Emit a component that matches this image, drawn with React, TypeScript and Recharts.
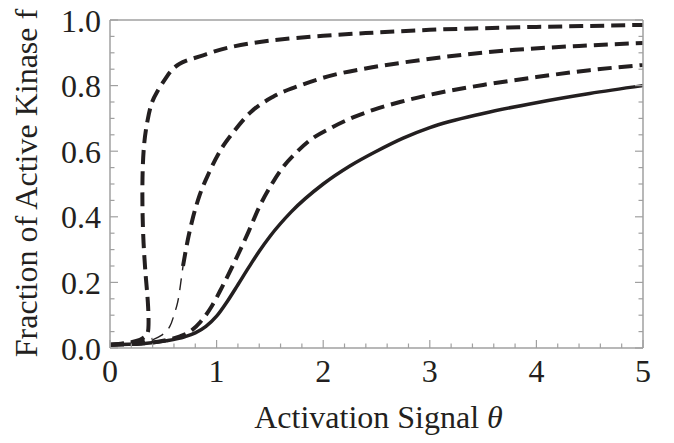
import React from "react";
import { LineChart, Line, XAxis, YAxis, Label } from "recharts";

const INK = "#231f20";
const FRAME = "#a0a0a0";
const SERIF = "'Liberation Serif', 'Times New Roman', serif";

// θ / f samples for each steady-state curve
const thetaA = [0, 0.1, 0.2, 0.28, 0.33, 0.36, 0.355, 0.335, 0.315, 0.305, 0.305, 0.32, 0.353, 0.39, 0.44, 0.53, 0.65, 0.85, 1.1, 1.5, 2.0, 2.5, 3.0, 3.5, 4.0, 4.5, 5.0];
const fA = [0.01, 0.013, 0.018, 0.025, 0.035, 0.06, 0.14, 0.22, 0.32, 0.42, 0.52, 0.62, 0.695, 0.745, 0.78, 0.826, 0.866, 0.89, 0.915, 0.937, 0.952, 0.962, 0.97, 0.975, 0.979, 0.982, 0.985];

const thetaBLow = [0, 0.2, 0.4];
const fBLow = [0.01, 0.015, 0.025];
const thetaBMid = [0.4, 0.49, 0.56, 0.6, 0.635, 0.66, 0.685];
const fBMid = [0.025, 0.04, 0.065, 0.1, 0.14, 0.19, 0.25];
const thetaBHigh = [0.685, 0.73, 0.78, 0.84, 0.93, 1.05, 1.15, 1.31, 1.53, 1.78, 2.09, 2.41, 2.72, 3.15, 3.8, 4.4, 5.0];
const fBHigh = [0.25, 0.33, 0.4, 0.465, 0.535, 0.61, 0.655, 0.716, 0.766, 0.8, 0.832, 0.853, 0.869, 0.888, 0.909, 0.921, 0.93];

const thetaC = [0, 0.3, 0.5, 0.65, 0.75, 0.85, 0.95, 1.05, 1.15, 1.3, 1.4, 1.5, 1.62, 1.75, 1.87, 2.09, 2.28, 2.47, 2.72, 3.0, 3.5, 4.0, 4.5, 5.0];
const fC = [0.01, 0.014, 0.022, 0.035, 0.05, 0.08, 0.125, 0.185, 0.25, 0.355, 0.43, 0.49, 0.55, 0.597, 0.632, 0.674, 0.703, 0.726, 0.75, 0.772, 0.802, 0.826, 0.847, 0.863];

const thetaD = [0, 0.3, 0.53, 0.7, 0.8, 0.9, 1.0, 1.1, 1.2, 1.3, 1.4, 1.5, 1.7, 2.0, 2.25, 2.5, 2.75, 3.0, 3.5, 4.0, 4.5, 5.0];
const fD = [0.01, 0.013, 0.022, 0.034, 0.046, 0.066, 0.097, 0.142, 0.193, 0.245, 0.295, 0.34, 0.415, 0.5, 0.555, 0.6, 0.64, 0.672, 0.715, 0.748, 0.776, 0.8];

const xMajor = [0, 1, 2, 3, 4, 5];
const yMajor = [0, 0.2, 0.4, 0.6, 0.8, 1.0];
const xMinorStep = 0.2;
const yMinorStep = 0.05;

const zip = (t: number[], f: number[]) => t.map((theta, i) => ({ theta, f: f[i] }));

const subdivide = (major: number[], step: number) => {
  const out: number[] = [];
  const n = Math.round((major[major.length - 1] - major[0]) / step);
  for (let i = 0; i <= n; i++) out.push(+(major[0] + i * step).toFixed(4));
  return out;
};

const xTicks = subdivide(xMajor, xMinorStep);
const yTicks = subdivide(yMajor, yMinorStep);

const isMajor = (v: number, major: number[]) => major.some((m) => Math.abs(m - v) < 1e-6);

const X_GAP = 34;
const Y_GAP = 9;

const BottomTick = ({ x, y, payload }: any) => {
  const major = isMajor(payload.value, xMajor);
  const axisY = y - X_GAP;
  return (
    <g>
      <line x1={x} x2={x} y1={axisY} y2={axisY - (major ? 8 : 4.5)} stroke={FRAME} strokeWidth={1.2} />
      {major && (
        <text x={x} y={y} textAnchor="middle" fontSize={32} fontFamily={SERIF} fill={INK}>
          {Math.round(payload.value)}
        </text>
      )}
    </g>
  );
};

const TopTick = ({ x, y, payload }: any) => {
  const major = isMajor(payload.value, xMajor);
  return <line x1={x} x2={x} y1={y} y2={y + (major ? 8 : 4.5)} stroke={FRAME} strokeWidth={1.2} />;
};

const LeftTick = ({ x, y, payload }: any) => {
  const major = isMajor(payload.value, yMajor);
  const axisX = x + Y_GAP;
  return (
    <g>
      <line x1={axisX} x2={axisX + (major ? 8 : 4.5)} y1={y} y2={y} stroke={FRAME} strokeWidth={1.2} />
      {major && (
        <text x={x} y={y} dy="0.36em" textAnchor="end" fontSize={32} fontFamily={SERIF} fill={INK}>
          {payload.value.toFixed(1)}
        </text>
      )}
    </g>
  );
};

const RightTick = ({ x, y, payload }: any) => {
  const major = isMajor(payload.value, yMajor);
  return <line x1={x} x2={x - (major ? 8 : 4.5)} y1={y} y2={y} stroke={FRAME} strokeWidth={1.2} />;
};

const XTitle = ({ viewBox }: any) => (
  <text x={viewBox.x + viewBox.width / 2 + 2} y={viewBox.y + 80} textAnchor="middle" fontSize={32} fontFamily={SERIF} fill={INK}>
    Activation Signal <tspan fontStyle="italic">θ</tspan>
  </text>
);

const YTitle = ({ viewBox }: any) => {
  const cx = viewBox.x - 13;
  const cy = viewBox.y + viewBox.height / 2 - 1;
  return (
    <text x={cx} y={cy} transform={`rotate(-90, ${cx}, ${cy})`} textAnchor="middle" fontSize={32} fontFamily={SERIF} fill={INK}>
      Fraction of Active Kinase f
    </text>
  );
};

const dashed = { stroke: INK, strokeWidth: 4, strokeDasharray: "14 7", dot: false, isAnimationActive: false };

export default function App() {
  return (
    <div style={{ position: "absolute", left: 0, top: 0, background: "#fff" }}>
      <LineChart width={674} height={443} margin={{ top: 10, right: 21, bottom: 35, left: 50 }}>
        <XAxis
          dataKey="theta"
          type="number"
          domain={[0, 5]}
          ticks={xTicks}
          interval={0}
          allowDataOverflow
          height={60}
          stroke={FRAME}
          strokeWidth={1.5}
          tickLine={false}
          tickSize={0}
          tickMargin={X_GAP}
          tick={<BottomTick />}
        >
          <Label content={<XTitle />} />
        </XAxis>
        <XAxis
          xAxisId="top"
          orientation="top"
          type="number"
          domain={[0, 5]}
          ticks={xTicks}
          interval={0}
          allowDataOverflow
          height={10}
          stroke={FRAME}
          strokeWidth={1.5}
          tickLine={false}
          tickSize={0}
          tickMargin={0}
          tick={<TopTick />}
        />
        <YAxis
          type="number"
          domain={[0, 1]}
          ticks={yTicks}
          interval={0}
          allowDataOverflow
          width={60}
          stroke={FRAME}
          strokeWidth={1.5}
          tickLine={false}
          tickSize={0}
          tickMargin={Y_GAP}
          tick={<LeftTick />}
        >
          <Label content={<YTitle />} />
        </YAxis>
        <YAxis
          yAxisId="right"
          orientation="right"
          type="number"
          domain={[0, 1]}
          ticks={yTicks}
          interval={0}
          allowDataOverflow
          width={10}
          stroke={FRAME}
          strokeWidth={1.5}
          tickLine={false}
          tickSize={0}
          tickMargin={0}
          tick={<RightTick />}
        />

        <Line data={zip(thetaD, fD)} dataKey="f" type="monotone" stroke={INK} strokeWidth={3.5} dot={false} isAnimationActive={false} />
        <Line data={zip(thetaC, fC)} dataKey="f" type="monotone" {...dashed} />
        <Line data={zip(thetaBLow, fBLow)} dataKey="f" type="monotone" {...dashed} />
        <Line data={zip(thetaBMid, fBMid)} dataKey="f" type="natural" stroke={INK} strokeWidth={1.4} strokeDasharray="12 8" dot={false} isAnimationActive={false} />
        <Line data={zip(thetaBHigh, fBHigh)} dataKey="f" type="monotone" {...dashed} />
        <Line data={zip(thetaA, fA)} dataKey="f" type="natural" {...dashed} />
      </LineChart>
    </div>
  );
}
